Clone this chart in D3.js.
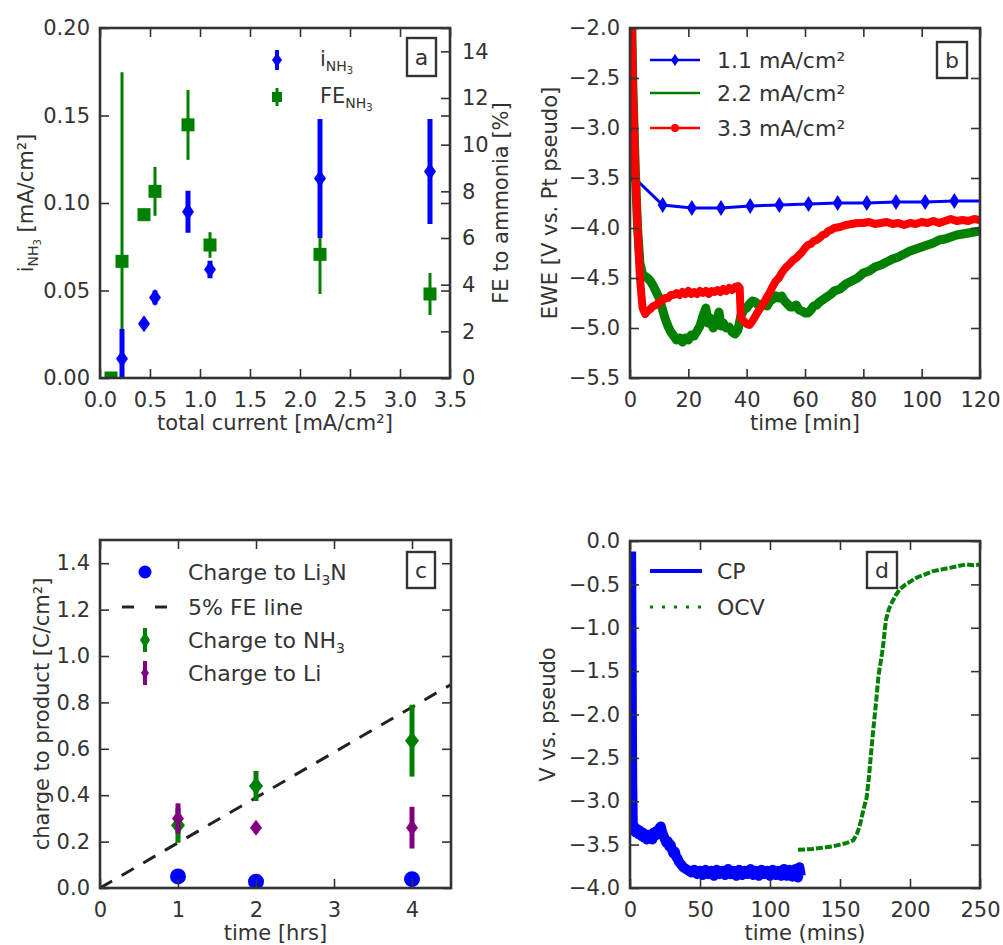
<!DOCTYPE html>
<html>
<head>
<meta charset="utf-8">
<script src="https://cdn.jsdelivr.net/npm/d3@7"></script>
<style>
  body { margin: 0; background: #fff; }
  svg { display: block; }
</style>
</head>
<body>
<div id="chart"></div>
<script>
// ---- panel a: ammonia current and faradaic efficiency vs total current
const aCurrent = [0.22, 0.44, 0.55, 0.88, 1.1, 2.2, 3.3];
const aINH3 = [0.011, 0.031, 0.046, 0.095, 0.062, 0.114, 0.118];
const aINH3Err = [0.017, 0.0, 0.004, 0.012, 0.005, 0.034, 0.030];
const aFECurrent = [0.11, 0.22, 0.44, 0.55, 0.88, 1.1, 2.2, 3.3];
const aFE = [0, 5.0, 7.0, 8.0, 10.85, 5.7, 5.3, 3.6];
const aFEErr = [0, 8.1, 0, 1.05, 1.5, 0.55, 1.7, 0.9];
const aXTicks = [0, 0.5, 1.0, 1.5, 2.0, 2.5, 3.0, 3.5];
const aYTicks = [0, 0.05, 0.10, 0.15, 0.20];
const aY2Ticks = [0, 2, 4, 6, 8, 10, 12, 14];

// ---- panel b: electrode potential over time (time min, EWE V)
const b11 = [[1.2,-3.49],[11.2,-3.77],[21.2,-3.80],[31.2,-3.80],[41.2,-3.78],[51.2,-3.77],
  [61.2,-3.76],[71.2,-3.75],[81.2,-3.75],[91.2,-3.74],[101.2,-3.74],[111.2,-3.73],[121.2,-3.73]];
const b22 = [[0.3,-1.5],[1.0,-2.6],[1.8,-3.4],[2.6,-4.0],[3.4,-4.35],[4.2,-4.45],[5,-4.48],[6,-4.50],
  [7,-4.53],[8,-4.58],[9,-4.64],[10,-4.70],[11,-4.80],[12,-4.90],[13,-4.98],[14,-5.04],[15,-5.08],
  [16,-5.12],[17,-5.10],[18,-5.14],[19,-5.10],[20,-5.12],[21,-5.07],[22,-5.08],[23,-5.03],[24,-4.98],
  [25,-4.88],[26,-4.80],[26.8,-4.95],[27.5,-4.90],[28.5,-5.00],[29.5,-4.96],[30.5,-4.84],[31.2,-4.98],
  [32,-4.95],[33,-5.00],[34,-4.99],[35,-5.04],[36,-5.06],[37,-5.02],[38,-4.88],[39,-4.82],[40,-4.80],
  [41,-4.76],[42,-4.73],[43,-4.74],[44,-4.77],[45,-4.78],[46,-4.75],[47,-4.78],[48,-4.73],[49,-4.71],
  [50,-4.68],[51,-4.70],[52,-4.68],[53,-4.73],[54,-4.76],[55,-4.79],[56,-4.79],[57,-4.77],[58,-4.82],
  [59,-4.83],[60,-4.85],[61,-4.85],[62,-4.82],[63,-4.78],[64,-4.77],[65,-4.74],[66,-4.72],[67,-4.70],
  [68,-4.68],[69,-4.66],[70,-4.63],[72,-4.61],[74,-4.56],[76,-4.53],[78,-4.50],[80,-4.45],[82,-4.43],
  [84,-4.39],[86,-4.37],[88,-4.34],[90,-4.31],[92,-4.29],[94,-4.26],[96,-4.23],[98,-4.21],[100,-4.19],
  [102,-4.17],[104,-4.15],[106,-4.12],[108,-4.11],[110,-4.09],[112,-4.07],[114,-4.06],[116,-4.05],
  [118,-4.04],[120,-4.03]];
const b33 = [[0.3,-1.5],[1.0,-2.6],[1.8,-3.4],[2.6,-4.0],[3.4,-4.5],[4.3,-4.8],[5.2,-4.86],[6,-4.83],
  [7,-4.81],[8,-4.78],[9,-4.77],[10,-4.74],[11,-4.73],[12,-4.70],[13,-4.70],[14,-4.67],[15,-4.67],
  [16,-4.65],[17,-4.67],[18,-4.64],[19,-4.66],[20,-4.63],[21,-4.66],[22,-4.64],[23,-4.66],[24,-4.63],
  [25,-4.65],[26,-4.63],[27,-4.66],[28,-4.63],[29,-4.64],[30,-4.62],[31,-4.64],[32,-4.61],[33,-4.63],
  [34,-4.60],[35,-4.62],[36,-4.59],[37,-4.58],[37.6,-4.60],[38,-4.90],[39,-4.93],[40,-4.96],[41,-4.97],
  [42,-4.93],[43,-4.88],[44,-4.83],[45,-4.79],[46,-4.74],[47,-4.69],[48,-4.64],[49,-4.58],[50,-4.53],
  [51,-4.50],[52,-4.45],[53,-4.41],[54,-4.38],[55,-4.35],[56,-4.32],[57,-4.30],[58,-4.27],[59,-4.24],
  [60,-4.20],[61,-4.17],[62,-4.16],[63,-4.13],[64,-4.12],[65,-4.10],[66,-4.07],[67,-4.06],[68,-4.03],
  [69,-4.02],[70,-4.00],[72,-3.99],[74,-3.97],[76,-3.96],[78,-3.95],[80,-3.95],[82,-3.94],[84,-3.96],
  [86,-3.95],[88,-3.94],[90,-3.96],[92,-3.95],[94,-3.97],[96,-3.95],[98,-3.96],[100,-3.94],[102,-3.95],
  [104,-3.93],[106,-3.95],[108,-3.93],[110,-3.91],[112,-3.93],[114,-3.92],[116,-3.93],[118,-3.91],[120,-3.92]];
const bXTicks = [0, 20, 40, 60, 80, 100, 120];
const bYTicks = [-5.5, -5.0, -4.5, -4.0, -3.5, -3.0, -2.5, -2.0];
const bLabels = ["1.1 mA/cm²", "2.2 mA/cm²", "3.3 mA/cm²"];

// ---- panel c: charge to product vs time (hrs, C/cm2)
const cTime = [1, 2, 4];
const cLi3N = [0.050, 0.027, 0.038];
const cNH3 = [0.27, 0.44, 0.635];
const cNH3Err = [0.075, 0.065, 0.155];
const cLi = [0.30, 0.26, 0.26];
const cLiErr = [0.065, 0.02, 0.09];
const cFELine = [[0, 0], [4.5, 0.877]];
const cXTicks = [0, 1, 2, 3, 4];
const cYTicks = [0, 0.2, 0.4, 0.6, 0.8, 1.0, 1.2, 1.4];

// ---- panel d: CP then OCV (mins, V vs pseudo)
const dCP = [[0.8,-0.12],[1.2,-1.5],[1.6,-2.8],[2.0,-3.25],[3,-3.30],[4,-3.36],[5,-3.32],[6,-3.38],
  [7,-3.34],[8,-3.40],[9,-3.36],[10,-3.42],[11,-3.38],[12,-3.44],[13,-3.40],[14,-3.43],[15,-3.38],
  [16,-3.44],[17,-3.36],[18,-3.40],[19,-3.34],[20,-3.38],[21,-3.31],[22,-3.29],[23,-3.36],[24,-3.40],
  [25,-3.44],[26,-3.48],[27,-3.46],[28,-3.52],[29,-3.50],[30,-3.56],[31,-3.60],[32,-3.58],[33,-3.64],
  [34,-3.66],[35,-3.70],[36,-3.72],[38,-3.76],[40,-3.78],[42,-3.80],[44,-3.82],[46,-3.79],[48,-3.84],
  [50,-3.80],[52,-3.85],[54,-3.79],[56,-3.84],[58,-3.80],[60,-3.86],[62,-3.79],[64,-3.84],[66,-3.80],
  [68,-3.85],[70,-3.78],[72,-3.84],[74,-3.80],[76,-3.86],[78,-3.79],[80,-3.85],[82,-3.80],[84,-3.84],
  [86,-3.78],[88,-3.85],[90,-3.80],[92,-3.86],[94,-3.79],[96,-3.84],[98,-3.80],[100,-3.86],[102,-3.79],
  [104,-3.85],[106,-3.80],[108,-3.86],[110,-3.78],[112,-3.86],[114,-3.79],[116,-3.87],[118,-3.78],
  [120,-3.88],[121,-3.76],[122,-3.86]];
const dOCV = [[120,-3.56],[130,-3.55],[140,-3.53],[145,-3.52],[150,-3.50],[155,-3.48],[159.5,-3.45],
  [162,-3.38],[164,-3.29],[166,-3.15],[167.5,-3.05],[169,-2.96],[170.5,-2.75],[172,-2.48],[173.5,-2.22],
  [175,-1.98],[176,-1.82],[177.5,-1.55],[179,-1.40],[180,-1.30],[181,-1.18],[182,-1.02],[183,-0.90],
  [185,-0.78],[188,-0.68],[190,-0.62],[193,-0.55],[197,-0.50],[201,-0.46],[205,-0.42],[210,-0.39],
  [216,-0.35],[222,-0.33],[228,-0.31],[234,-0.29],[240,-0.27],[245,-0.28],[250,-0.27]];
const dXTicks = [0, 50, 100, 150, 200, 250];
const dYTicks = [-4.0, -3.5, -3.0, -2.5, -2.0, -1.5, -1.0, -0.5, 0.0];

// colours (matplotlib classic)
const BLUE = "#0000ff", GREEN = "#008000", RED = "#ff0000", PURPLE = "#800080";
const INK = "#333";
const FONT = "DejaVu Sans";

const svg = d3.select("#chart").append("svg")
    .attr("width", 1003)
    .attr("height", 945)
    .attr("font-family", FONT);

// Create a panel group with clip path
function makePanel(id, ox, oy, w, h) {
    const g = svg.append("g").attr("transform", `translate(${ox},${oy})`);
    g.append("clipPath").attr("id", "clip-" + id)
        .append("rect").attr("width", w).attr("height", h);
    const plot = g.append("g").attr("clip-path", `url(#clip-${id})`);
    return { g, plot, w, h };
}

function styleAxis(sel) {
    sel.select(".domain").remove();
    sel.attr("font-family", FONT).attr("font-size", 21);
    sel.selectAll(".tick line").attr("stroke", INK).attr("stroke-width", 1.6);
    sel.selectAll(".tick text").attr("fill", INK);
}

// Inward ticks on all four sides, like the classic matplotlib style
function drawAxes(p, x, y, xt, yt, xf, yf, rightTicks = true) {
    p.g.append("g").attr("transform", `translate(0,${p.h})`)
        .call(d3.axisBottom(x).tickValues(xt).tickFormat(xf).tickSize(-9).tickPadding(14))
        .call(styleAxis);
    p.g.append("g")
        .call(d3.axisTop(x).tickValues(xt).tickFormat("").tickSize(-9))
        .call(styleAxis);
    p.g.append("g")
        .call(d3.axisLeft(y).tickValues(yt).tickFormat(yf).tickSize(-9).tickPadding(10))
        .call(styleAxis);
    if (rightTicks) {
        p.g.append("g").attr("transform", `translate(${p.w},0)`)
            .call(d3.axisRight(y).tickValues(yt).tickFormat("").tickSize(-9))
            .call(styleAxis);
    }
}

function frame(p) {
    p.g.append("rect")
        .attr("width", p.w).attr("height", p.h)
        .attr("fill", "none").attr("stroke", INK).attr("stroke-width", 2.6);
}

function xLabel(p, txt) {
    return p.g.append("text")
        .attr("x", p.w / 2).attr("y", p.h + 52)
        .attr("text-anchor", "middle").attr("font-size", 21).attr("fill", INK)
        .text(txt);
}

function yLabel(p, dx) {
    return p.g.append("text")
        .attr("transform", `translate(${dx},${p.h / 2}) rotate(-90)`)
        .attr("text-anchor", "middle").attr("font-size", 21).attr("fill", INK);
}

function letterBox(p, x, y, w, h, ch) {
    p.g.append("rect").attr("x", x).attr("y", y).attr("width", w).attr("height", h)
        .attr("fill", "#fff").attr("stroke", INK).attr("stroke-width", 2.4);
    p.g.append("text").attr("x", x + w / 2).attr("y", y + h / 2)
        .attr("dy", "0.35em").attr("text-anchor", "middle")
        .attr("font-size", 22).attr("fill", INK).text(ch);
}

// thin diamond marker ('d')
function diamond(w, h) {
    return `M0,${-h}L${w},0L0,${h}L${-w},0Z`;
}

// subscript helper: appends base text then small lowered text
function withSub(t, base, sub, sub2, after) {
    t.append("tspan").text(base);
    t.append("tspan").attr("font-size", 14).attr("dy", 5).text(sub);
    if (sub2) t.append("tspan").attr("font-size", 10).attr("dy", 3).text(sub2);
    if (after) t.append("tspan").attr("dy", sub2 ? -8 : -5).text(after);
    return t;
}

const fmtMinus = d3.format(".1f");

// ================= Panel a =================
{
    const p = makePanel("a", 100, 28, 350, 350);
    const x = d3.scaleLinear().domain([0, 3.5]).range([0, p.w]);
    const y = d3.scaleLinear().domain([0, 0.20]).range([p.h, 0]);
    const y2 = d3.scaleLinear().domain([0, 15]).range([p.h, 0]);

    // FE (twin axis) in green squares
    aFECurrent.forEach((c, i) => {
        p.plot.append("line")
            .attr("x1", x(c)).attr("x2", x(c))
            .attr("y1", y2(aFE[i] - aFEErr[i])).attr("y2", y2(aFE[i] + aFEErr[i]))
            .attr("stroke", GREEN).attr("stroke-width", 3);
        p.plot.append("rect")
            .attr("x", x(c) - 6.5).attr("y", y2(aFE[i]) - 6.5)
            .attr("width", 13).attr("height", 13).attr("fill", GREEN);
    });
    // i_NH3 in blue diamonds
    aCurrent.forEach((c, i) => {
        p.plot.append("line")
            .attr("x1", x(c)).attr("x2", x(c))
            .attr("y1", y(aINH3[i] - aINH3Err[i])).attr("y2", y(aINH3[i] + aINH3Err[i]))
            .attr("stroke", BLUE).attr("stroke-width", 5);
        p.plot.append("path")
            .attr("transform", `translate(${x(c)},${y(aINH3[i])})`)
            .attr("d", diamond(6, 8.5)).attr("fill", BLUE);
    });

    drawAxes(p, x, y, aXTicks, aYTicks, d3.format(".1f"), d3.format(".2f"), false);
    // left-axis ticks mirrored on the right spine
    p.g.append("g").attr("transform", `translate(${p.w},0)`)
        .call(d3.axisRight(y).tickValues(aYTicks).tickFormat("").tickSize(-9))
        .call(styleAxis);
    // twin axis
    p.g.append("g").attr("transform", `translate(${p.w},0)`)
        .call(d3.axisRight(y2).tickValues(aY2Ticks).tickFormat(d3.format("d")).tickSize(-9).tickPadding(12))
        .call(styleAxis);
    frame(p);

    xLabel(p, "total current [mA/cm²]");
    withSub(yLabel(p, -67), "i", "NH", "3", " [mA/cm²]");
    yLabel(p, p.w + 58).text("FE to ammonia [%]");

    // legend
    const lg = p.g.append("g").attr("font-size", 21).attr("fill", INK);
    lg.append("line").attr("x1", 177).attr("x2", 177).attr("y1", 22).attr("y2", 42)
        .attr("stroke", BLUE).attr("stroke-width", 4);
    lg.append("path").attr("transform", "translate(177,32)").attr("d", diamond(5, 7)).attr("fill", BLUE);
    lg.append("line").attr("x1", 177).attr("x2", 177).attr("y1", 60).attr("y2", 78)
        .attr("stroke", GREEN).attr("stroke-width", 3);
    lg.append("rect").attr("x", 172).attr("y", 64).attr("width", 10).attr("height", 10).attr("fill", GREEN);
    withSub(lg.append("text").attr("x", 220).attr("y", 38), "i", "NH", "3");
    withSub(lg.append("text").attr("x", 220).attr("y", 75), "FE", "NH", "3");

    letterBox(p, 307, 10, 29, 38, "a");
}

// ================= Panel b =================
{
    const p = makePanel("b", 630, 28, 350, 350);
    const x = d3.scaleLinear().domain([0, 120]).range([0, p.w]);
    const y = d3.scaleLinear().domain([-5.5, -2.0]).range([p.h, 0]);
    const line = d3.line().x(d => x(d[0])).y(d => y(d[1]));

    p.plot.append("path").datum(b11).attr("d", line)
        .attr("fill", "none").attr("stroke", BLUE).attr("stroke-width", 3);
    p.plot.selectAll(".m11").data(b11).join("path")
        .attr("transform", d => `translate(${x(d[0])},${y(d[1])})`)
        .attr("d", diamond(5, 8)).attr("fill", BLUE);
    p.plot.append("path").datum(b22).attr("d", line)
        .attr("fill", "none").attr("stroke", GREEN).attr("stroke-width", 9)
        .attr("stroke-linejoin", "round");
    p.plot.append("path").datum(b33).attr("d", line)
        .attr("fill", "none").attr("stroke", RED).attr("stroke-width", 8)
        .attr("stroke-linejoin", "round");

    drawAxes(p, x, y, bXTicks, bYTicks, d3.format("d"), fmtMinus);
    frame(p);
    xLabel(p, "time [min]");
    yLabel(p, -73).text("EWE [V vs. Pt pseudo]");

    // legend
    const rows = [32, 65, 100];
    const cols = [BLUE, GREEN, RED];
    rows.forEach((ry, i) => {
        p.g.append("line").attr("x1", 20).attr("x2", 70).attr("y1", ry).attr("y2", ry)
            .attr("stroke", cols[i]).attr("stroke-width", 2.5);
        p.g.append("text").attr("x", 87).attr("y", ry).attr("dy", "0.35em")
            .attr("font-size", 22).attr("fill", INK).text(bLabels[i]);
    });
    p.g.append("path").attr("transform", `translate(45,${rows[0]})`).attr("d", diamond(4, 6)).attr("fill", BLUE);
    p.g.append("circle").attr("cx", 45).attr("cy", rows[2]).attr("r", 4).attr("fill", RED);

    letterBox(p, 307, 14, 30, 36, "b");
}

// ================= Panel c =================
{
    const p = makePanel("c", 100, 540, 351, 348);
    const x = d3.scaleLinear().domain([0, 4.5]).range([0, p.w]);
    const y = d3.scaleLinear().domain([0, 1.5]).range([p.h, 0]);
    const line = d3.line().x(d => x(d[0])).y(d => y(d[1]));

    p.plot.append("path").datum(cFELine).attr("d", line)
        .attr("fill", "none").attr("stroke", "#222").attr("stroke-width", 3)
        .attr("stroke-dasharray", "14,11");
    p.plot.selectAll(".li3n").data(cTime).join("circle")
        .attr("cx", d => x(d)).attr("cy", (d, i) => y(cLi3N[i])).attr("r", 8).attr("fill", BLUE);
    cTime.forEach((t, i) => {
        p.plot.append("line").attr("x1", x(t)).attr("x2", x(t))
            .attr("y1", y(cNH3[i] - cNH3Err[i])).attr("y2", y(cNH3[i] + cNH3Err[i]))
            .attr("stroke", GREEN).attr("stroke-width", 5);
        p.plot.append("path").attr("transform", `translate(${x(t)},${y(cNH3[i])})`)
            .attr("d", diamond(7, 9)).attr("fill", GREEN);
    });
    cTime.forEach((t, i) => {
        p.plot.append("line").attr("x1", x(t)).attr("x2", x(t))
            .attr("y1", y(cLi[i] - cLiErr[i])).attr("y2", y(cLi[i] + cLiErr[i]))
            .attr("stroke", PURPLE).attr("stroke-width", 5);
        p.plot.append("path").attr("transform", `translate(${x(t)},${y(cLi[i])})`)
            .attr("d", diamond(6, 8)).attr("fill", PURPLE);
    });

    drawAxes(p, x, y, cXTicks, cYTicks, d3.format("d"), d3.format(".1f"));
    frame(p);
    xLabel(p, "time [hrs]");
    yLabel(p, -51).text("charge to product [C/cm²]");

    // legend
    const lg = p.g.append("g").attr("font-size", 22).attr("fill", INK);
    lg.append("circle").attr("cx", 45).attr("cy", 32).attr("r", 6.5).attr("fill", BLUE);
    lg.append("line").attr("x1", 22).attr("x2", 68).attr("y1", 67).attr("y2", 67)
        .attr("stroke", "#222").attr("stroke-width", 3).attr("stroke-dasharray", "12,21");
    lg.append("line").attr("x1", 45).attr("x2", 45).attr("y1", 88).attr("y2", 112)
        .attr("stroke", GREEN).attr("stroke-width", 4);
    lg.append("path").attr("transform", "translate(45,100)").attr("d", diamond(5, 8)).attr("fill", GREEN);
    lg.append("line").attr("x1", 45).attr("x2", 45).attr("y1", 121).attr("y2", 145)
        .attr("stroke", PURPLE).attr("stroke-width", 4);
    lg.append("path").attr("transform", "translate(45,133)").attr("d", diamond(4, 6)).attr("fill", PURPLE);
    withSub(lg.append("text").attr("x", 88).attr("y", 40), "Charge to Li", "3", null, "N");
    lg.append("text").attr("x", 88).attr("y", 75).text("5% FE line");
    withSub(lg.append("text").attr("x", 88).attr("y", 108), "Charge to NH", "3");
    lg.append("text").attr("x", 88).attr("y", 141).text("Charge to Li");

    letterBox(p, 307, 12, 28, 36, "c");
}

// ================= Panel d =================
{
    const p = makePanel("d", 630, 541, 350, 347);
    const x = d3.scaleLinear().domain([0, 250]).range([0, p.w]);
    const y = d3.scaleLinear().domain([-4.0, 0.0]).range([p.h, 0]);
    const line = d3.line().x(d => x(d[0])).y(d => y(d[1]));

    p.plot.append("path").datum(dCP).attr("d", line)
        .attr("fill", "none").attr("stroke", BLUE).attr("stroke-width", 10)
        .attr("stroke-linejoin", "round");
    p.plot.append("path").datum(dOCV).attr("d", line)
        .attr("fill", "none").attr("stroke", GREEN).attr("stroke-width", 4)
        .attr("stroke-dasharray", "7,2");

    drawAxes(p, x, y, dXTicks, dYTicks, d3.format("d"), fmtMinus);
    frame(p);
    xLabel(p, "time (mins)");
    yLabel(p, -75).text("V vs. pseudo");

    const lg = p.g.append("g").attr("font-size", 22).attr("fill", INK);
    lg.append("line").attr("x1", 20).attr("x2", 72).attr("y1", 30).attr("y2", 30)
        .attr("stroke", BLUE).attr("stroke-width", 4);
    lg.append("line").attr("x1", 20).attr("x2", 72).attr("y1", 66).attr("y2", 66)
        .attr("stroke", GREEN).attr("stroke-width", 3).attr("stroke-dasharray", "3,9");
    lg.append("text").attr("x", 87).attr("y", 30).attr("dy", "0.35em").text("CP");
    lg.append("text").attr("x", 87).attr("y", 66).attr("dy", "0.35em").text("OCV");

    letterBox(p, 237, 11, 30, 36, "d");
}
</script>
</body>
</html>
